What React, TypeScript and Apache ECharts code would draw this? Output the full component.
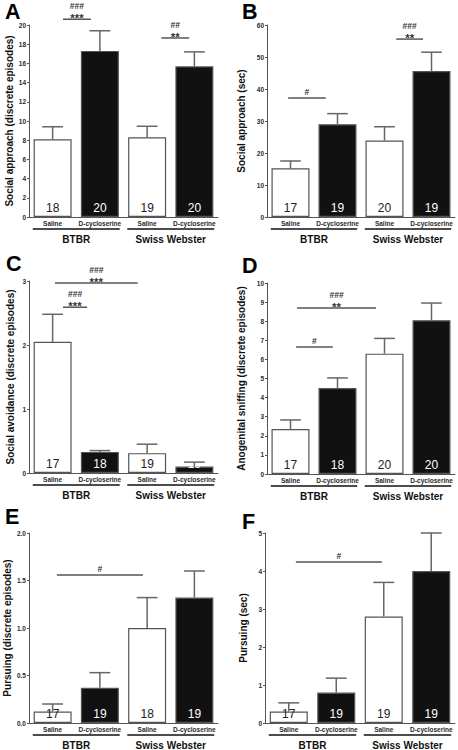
import React, { useEffect, useRef } from "react";
import * as echarts from "echarts";

const FONT = '"Liberation Sans", Arial, Helvetica, sans-serif';

const categories = ["Saline", "D-cycloserine", "Saline", "D-cycloserine"];
const strains = ["BTBR", "Swiss Webster"];
const strainPairs = [[0, 1], [2, 3]];
const panelLetters = ["A", "B", "C", "D", "E", "F"];
const yTitles = [
  "Social approach (discrete episodes)",
  "Social approach (sec)",
  "Social avoidance (discrete episodes)",
  "Anogenital sniffing (discrete episodes)",
  "Pursuing (discrete episodes)",
  "Pursuing (sec)",
];
const yMax = [20, 60, 3, 10, 2, 5];
const yStep = [2, 10, 1, 1, 0.5, 1];
const yDecimals = [0, 0, 0, 0, 1, 0];

const meanA = [8.1, 17.3, 8.3, 15.7];
const errA = [1.3, 2.1, 1.15, 1.5];
const nA = [18, 20, 19, 20];

const meanB = [15.2, 29.0, 23.9, 45.6];
const errB = [2.3, 3.3, 4.3, 5.9];
const nB = [17, 19, 20, 19];

const meanC = [2.05, 0.33, 0.31, 0.1];
const errC = [0.43, 0.02, 0.14, 0.07];
const nC = [17, 18, 19, 19];

const meanD = [2.35, 4.5, 6.3, 8.05];
const errD = [0.48, 0.53, 0.8, 0.9];
const nD = [17, 18, 20, 20];

const meanE = [0.12, 0.37, 1.0, 1.32];
const errE = [0.08, 0.16, 0.32, 0.28];
const nE = [17, 19, 18, 19];

const meanF = [0.3, 0.8, 2.8, 4.0];
const errF = [0.23, 0.38, 0.9, 1.0];
const nF = [17, 19, 19, 19];

// significance brackets: [fromBar, toBar, level (y value)], marks
const sigPairsA = [[0, 1, 20.6], [2, 3, 18.65]];
const sigMarksA = [["###", "***"], ["##", "**"]];
const sigPairsB = [[0, 1, 37.2], [2, 3, 55.6]];
const sigMarksB = [["#"], ["###", "**"]];
const sigPairsC = [[0, 2, 2.97], [0, 1, 2.59]];
const sigMarksC = [["###", "***"], ["###", "***"]];
const sigPairsD = [[0, 2, 8.69], [0, 1, 6.65]];
const sigMarksD = [["###", "**"], ["#"]];
const sigPairsE = [[0, 2, 1.558]];
const sigMarksE = [["#"]];
const sigPairsF = [[0, 2, 4.24]];
const sigMarksF = [["#"]];

const means = [meanA, meanB, meanC, meanD, meanE, meanF];
const errs = [errA, errB, errC, errD, errE, errF];
const ns = [nA, nB, nC, nD, nE, nF];
const sigPairs = [sigPairsA, sigPairsB, sigPairsC, sigPairsD, sigPairsE, sigPairsF];
const sigMarks = [sigMarksA, sigMarksB, sigMarksC, sigMarksD, sigMarksE, sigMarksF];

// layout (pixels)
const grids = [
  { left: 29, top: 25, width: 189, height: 192 },
  { left: 267, top: 25, width: 188, height: 192 },
  { left: 29, top: 281, width: 189, height: 192 },
  { left: 267, top: 283, width: 188, height: 191 },
  { left: 29, top: 533, width: 189, height: 190 },
  { left: 265, top: 533, width: 190, height: 190 },
];
const nameGaps = [14, 21, 14, 21, 17, 17];
const letterPos = [
  [5, 5], [242, 5], [6, 257], [242, 258.5], [5, 510], [242, 515],
];
// bracket end offsets as fraction of band width
const sigOffsets = [
  [[0.22, -0.19], [0.3, -0.11]],
  [[-0.05, -0.25], [0.25, -0.18]],
  [[0.05, -0.2], [0.22, -0.27]],
  [[0.14, -0.18], [0.12, -0.1]],
  [[0.09, -0.09]],
  [[0.15, -0.04]],
];

const AXIS = "#555";
const TXT = "#2a2a2a";

function buildOption() {
  const xAxis: any[] = [];
  const yAxis: any[] = [];
  const series: any[] = [];
  const title: any[] = [];

  for (let i = 0; i < 6; i++) {
    const dec = yDecimals[i];
    xAxis.push({
      type: "category",
      gridIndex: i,
      data: categories,
      axisTick: { show: false },
      axisLine: { lineStyle: { color: AXIS, width: 1 } },
      axisLabel: {
        interval: 0,
        margin: 3,
        fontSize: 6.5,
        fontWeight: "bold",
        color: TXT,
        fontFamily: FONT,
      },
    });
    yAxis.push({
      type: "value",
      gridIndex: i,
      min: 0,
      max: yMax[i],
      interval: yStep[i],
      name: yTitles[i],
      nameLocation: "middle",
      nameGap: nameGaps[i],
      nameTextStyle: { fontSize: 10, fontWeight: "bold", color: "#111", fontFamily: FONT },
      splitLine: { show: false },
      axisLine: { show: true, lineStyle: { color: AXIS, width: 1 } },
      axisTick: { show: true, length: 2, lineStyle: { color: AXIS } },
      axisLabel: {
        margin: 3,
        fontSize: 6.5,
        fontWeight: "bold",
        color: TXT,
        fontFamily: FONT,
        formatter: (v: number) => v.toFixed(dec),
      },
    });
    title.push({
      text: panelLetters[i],
      left: letterPos[i][0],
      top: letterPos[i][1],
      padding: 0,
      textStyle: { fontSize: 21.5, lineHeight: 14, fontWeight: "bold", color: "#000", fontFamily: FONT },
    });

    const n = ns[i];
    series.push({
      type: "bar",
      xAxisIndex: i,
      yAxisIndex: i,
      barWidth: 38,
      data: means[i].map((v, j) => ({
        value: v,
        itemStyle: { color: j % 2 ? "#111" : "#fff" },
        label: { color: j % 2 ? "#fff" : "#222" },
      })),
      itemStyle: { borderColor: "#555", borderWidth: 1.2 },
      label: {
        show: true,
        position: "insideBottom",
        distance: 3,
        fontSize: 12,
        fontFamily: FONT,
        formatter: (p: any) => String(n[p.dataIndex]),
      },
    });

    const err = errs[i];
    series.push({
      type: "custom",
      xAxisIndex: i,
      yAxisIndex: i,
      data: means[i].map((v, j) => [j, v, v + err[j]]),
      renderItem: (params: any, api: any) => {
        const x = api.value(0);
        const lo = api.coord([x, api.value(1)]);
        const hi = api.coord([x, api.value(2)]);
        const cap = api.size([1, 0])[0] * 0.22;
        const style = { stroke: "#666", lineWidth: 1.5 };
        return {
          type: "group",
          children: [
            { type: "line", shape: { x1: lo[0], y1: lo[1], x2: hi[0], y2: hi[1] }, style },
            { type: "line", shape: { x1: hi[0] - cap, y1: hi[1], x2: hi[0] + cap, y2: hi[1] }, style },
          ],
        };
      },
      z: 3,
    });

    const marks = sigMarks[i];
    const offs = sigOffsets[i];
    series.push({
      type: "custom",
      xAxisIndex: i,
      yAxisIndex: i,
      clip: false,
      data: sigPairs[i].map((s) => [s[0], s[2], s[1]]),
      renderItem: (params: any, api: any) => {
        const k = params.dataIndex;
        const bw = api.size([1, 0])[0];
        const a = api.coord([api.value(0), api.value(1)]);
        const b = api.coord([api.value(2), api.value(1)]);
        const x1 = a[0] + offs[k][0] * bw;
        const x2 = b[0] + offs[k][1] * bw;
        const y = a[1];
        const cx = (x1 + x2) / 2;
        const m = marks[k];
        const children: any[] = [
          { type: "line", shape: { x1, y1: y, x2, y2: y }, style: { stroke: "#555", lineWidth: 1.5 } },
        ];
        if (m.length === 1) {
          children.push({
            type: "text",
            style: { text: m[0], x: cx, y: y - 6, align: "center", verticalAlign: "middle", fontSize: 8.5, fontWeight: "bold", fill: "#333", fontFamily: FONT },
          });
        } else {
          children.push({
            type: "text",
            style: { text: m[0], x: cx, y: y - 13, align: "center", verticalAlign: "middle", fontSize: 8.5, fontWeight: "bold", fill: "#333", fontFamily: FONT },
          });
          children.push({
            type: "text",
            style: { text: m[1], x: cx, y: y - 1, align: "center", verticalAlign: "middle", fontSize: 11.5, fontWeight: "bold", fill: "#333", fontFamily: FONT },
          });
        }
        return { type: "group", children };
      },
      z: 4,
    });

    series.push({
      type: "custom",
      xAxisIndex: i,
      yAxisIndex: i,
      clip: false,
      data: strainPairs.map((p) => [p[0], 0, p[1]]),
      renderItem: (params: any, api: any) => {
        const bw = api.size([1, 0])[0];
        const a = api.coord([api.value(0), 0]);
        const b = api.coord([api.value(2), 0]);
        const x1 = a[0] - bw * 0.42;
        const x2 = b[0] + bw * 0.42;
        const y = a[1] + 12;
        return {
          type: "group",
          children: [
            { type: "line", shape: { x1, y1: y, x2, y2: y }, style: { stroke: "#111", lineWidth: 1.5 } },
            {
              type: "text",
              style: {
                text: strains[params.dataIndex],
                x: (x1 + x2) / 2,
                y: y + 10,
                align: "center",
                verticalAlign: "middle",
                fontSize: 10,
                fontWeight: "bold",
                fill: "#111",
                fontFamily: FONT,
              },
            },
          ],
        };
      },
    });
  }

  return {
    animation: false,
    backgroundColor: "#fff",
    textStyle: { fontFamily: FONT },
    title,
    grid: grids.map((g) => ({ ...g, containLabel: false })),
    xAxis,
    yAxis,
    series,
  };
}

export default function App() {
  const ref = useRef<HTMLDivElement>(null);
  useEffect(() => {
    if (!ref.current) return;
    const chart = echarts.init(ref.current, undefined, { renderer: "svg" });
    chart.setOption(buildOption() as any);
    return () => chart.dispose();
  }, []);
  return (
    <div
      ref={ref}
      style={{ position: "absolute", left: 0, top: 0, width: 458, height: 750, background: "#fff" }}
    />
  );
}
